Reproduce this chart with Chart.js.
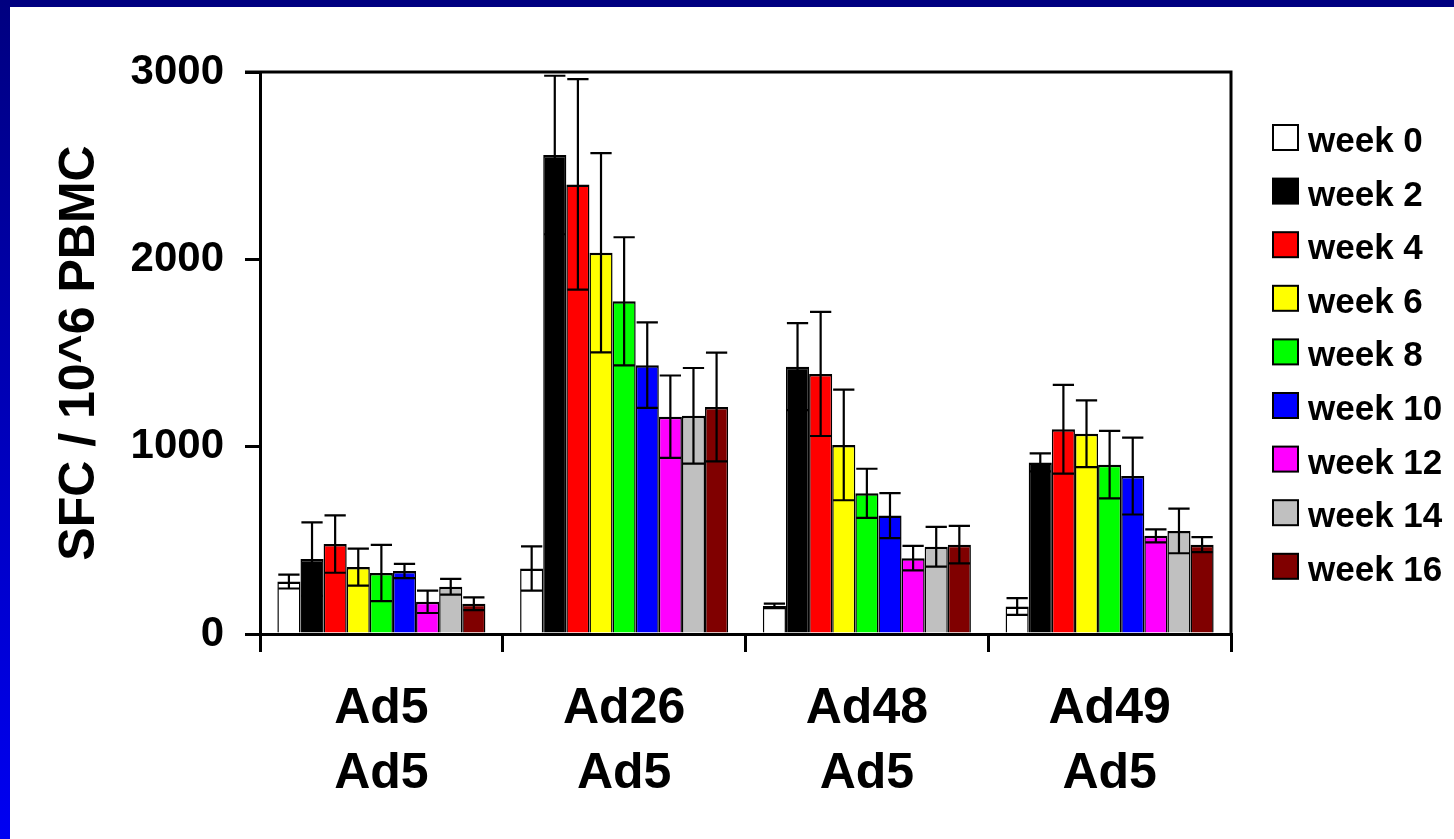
<!DOCTYPE html>
<html>
<head>
<meta charset="utf-8">
<script src="https://cdn.jsdelivr.net/npm/chart.js@4/dist/chart.umd.min.js"></script>
<style>
  html, body { margin: 0; padding: 0; width: 1454px; height: 839px; overflow: hidden;
    background: linear-gradient(to bottom, #000080, #0000f2); }
  #panel { position: absolute; left: 10px; top: 7px; width: 1444px; height: 832px; background: #ffffff; }
  canvas { display: block; }
</style>
</head>
<body>
<div id="panel"><canvas id="chart" width="1444" height="832"></canvas></div>
<script>
// Vaccine regimens (prime / boost)
const groups = [["Ad5", "Ad5"], ["Ad26", "Ad5"], ["Ad48", "Ad5"], ["Ad49", "Ad5"]];
const weekLabels = ["week 0", "week 2", "week 4", "week 6", "week 8", "week 10", "week 12", "week 14", "week 16"];
const weekColors = ["#ffffff", "#000000", "#ff0000", "#ffff00", "#00ff00", "#0000ff", "#ff00ff", "#c0c0c0", "#800000"];
const yTicks = [0, 1000, 2000, 3000];

// Mean SFC / 10^6 PBMC per group, one array per time point
const meanWeek0  = [280, 350, 150, 147];
const meanWeek2  = [400, 2557, 1427, 916];
const meanWeek4  = [480, 2400, 1388, 1093];
const meanWeek6  = [357, 2035, 1009, 1069];
const meanWeek8  = [326, 1776, 751, 904];
const meanWeek10 = [336, 1435, 632, 843];
const meanWeek12 = [172, 1160, 405, 524];
const meanWeek14 = [252, 1165, 466, 550];
const meanWeek16 = [161, 1212, 477, 477];

// Error (± one SD) per group, same order
const errWeek0  = [37, 118, 12, 45];
const errWeek2  = [196, 423, 232, 48];
const errWeek4  = [153, 562, 331, 237];
const errWeek6  = [99, 532, 295, 178];
const errWeek8  = [150, 342, 131, 180];
const errWeek10 = [38, 228, 120, 205];
const errWeek12 = [60, 220, 65, 35];
const errWeek14 = [42, 255, 106, 119];
const errWeek16 = [34, 290, 100, 40];

const means = [meanWeek0, meanWeek2, meanWeek4, meanWeek6, meanWeek8, meanWeek10, meanWeek12, meanWeek14, meanWeek16];
const errors = [errWeek0, errWeek2, errWeek4, errWeek6, errWeek8, errWeek10, errWeek12, errWeek14, errWeek16];

const FONT = '"Liberation Sans", Arial, Helvetica, sans-serif';

const datasets = weekLabels.map((label, i) => ({
  label: label,
  data: means[i],
  errors: errors[i],
  backgroundColor: weekColors[i],
  borderColor: '#000000',
  borderWidth: { top: 2.5, left: 1.5, right: 1.5, bottom: 0 },
  borderSkipped: false,
  categoryPercentage: 0.857,
  barPercentage: 1.0
}));

// Symmetric error bars with caps, drawn on top of each bar
const errorBarPlugin = {
  id: 'errorBars',
  afterDatasetsDraw(chart) {
    const ctx = chart.ctx;
    const y = chart.scales.y;
    ctx.save();
    ctx.strokeStyle = '#000000';
    ctx.lineWidth = 2.2;
    chart.data.datasets.forEach((ds, i) => {
      const meta = chart.getDatasetMeta(i);
      meta.data.forEach((bar, j) => {
        const v = ds.data[j];
        const e = ds.errors[j];
        const top = y.getPixelForValue(v + e);
        const bot = y.getPixelForValue(Math.max(v - e, 0));
        const half = bar.width * 0.46;
        ctx.beginPath();
        ctx.moveTo(bar.x, top);
        ctx.lineTo(bar.x, bot);
        ctx.moveTo(bar.x - half, top);
        ctx.lineTo(bar.x + half, top);
        ctx.moveTo(bar.x - half, bot);
        ctx.lineTo(bar.x + half, bot);
        ctx.stroke();
      });
    });
    ctx.restore();
  }
};

// Closes the plot box along the top and right edges
const frameBoxPlugin = {
  id: 'frameBox',
  afterDraw(chart) {
    const { ctx, chartArea: a } = chart;
    ctx.save();
    ctx.strokeStyle = '#000000';
    ctx.lineWidth = 3;
    ctx.beginPath();
    ctx.moveTo(a.left - 15, a.top);
    ctx.lineTo(a.right, a.top);
    ctx.lineTo(a.right, a.bottom);
    ctx.stroke();
    ctx.restore();
  }
};

// Week legend to the right of the plot
const weekLegendPlugin = {
  id: 'weekLegend',
  afterDraw(chart) {
    const ctx = chart.ctx;
    const boxX = 1263, textX = 1298, firstBaseline = 145, step = 53.6, box = 25;
    ctx.save();
    ctx.font = 'bold 35px ' + FONT;
    ctx.textAlign = 'left';
    ctx.textBaseline = 'alphabetic';
    chart.data.datasets.forEach((ds, i) => {
      const base = firstBaseline + i * step;
      const top = base - 27;
      ctx.fillStyle = ds.backgroundColor;
      ctx.fillRect(boxX, top, box, box);
      ctx.lineWidth = 2;
      ctx.strokeStyle = '#000000';
      ctx.strokeRect(boxX, top, box, box);
      ctx.fillStyle = '#000000';
      ctx.fillText(ds.label, textX, base);
    });
    ctx.restore();
  }
};

new Chart(document.getElementById('chart'), {
  type: 'bar',
  data: { labels: groups, datasets: datasets },
  plugins: [errorBarPlugin, frameBoxPlugin, weekLegendPlugin],
  options: {
    responsive: false,
    animation: false,
    devicePixelRatio: 1,
    layout: { padding: { top: 65, right: 223, left: 0, bottom: 0 } },
    plugins: { legend: { display: false }, tooltip: { enabled: false } },
    scales: {
      x: {
        grid: { offset: true, drawOnChartArea: false, drawTicks: true, tickLength: 18, color: '#000000', lineWidth: 3 },
        border: { display: true, color: '#000000', width: 3 },
        ticks: { color: '#000000', padding: 25, maxRotation: 0, font: { family: FONT, size: 50, weight: 'bold', lineHeight: 1.3 } },
        afterFit(scale) { scale.height = 205; }
      },
      y: {
        min: 0,
        max: 3000,
        afterBuildTicks(scale) { scale.ticks = yTicks.map(v => ({ value: v })); },
        grid: { drawOnChartArea: false, drawTicks: true, tickLength: 15, color: '#000000', lineWidth: 3 },
        border: { display: true, color: '#000000', width: 3 },
        ticks: {
          color: '#000000',
          padding: 21,
          font: { family: FONT, size: 42, weight: 'bold' },
          callback: (value) => String(value)
        },
        title: {
          display: true,
          text: 'SFC / 10^6 PBMC',
          color: '#000000',
          padding: { top: 40, bottom: 0 },
          font: { family: FONT, size: 50, weight: 'bold', lineHeight: 1.2 }
        },
        afterFit(scale) { scale.width = 250; }
      }
    }
  }
});
</script>
</body>
</html>
